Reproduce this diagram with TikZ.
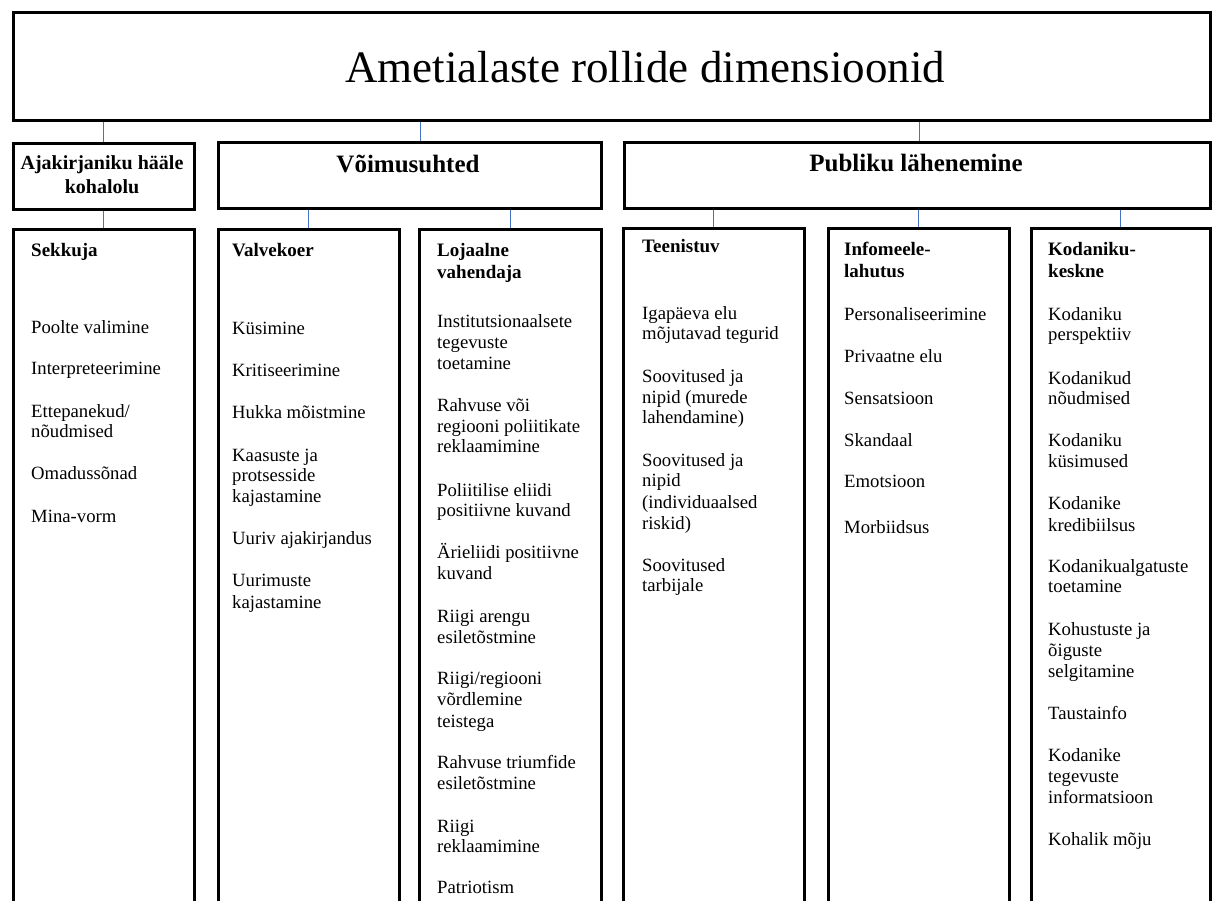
\documentclass[tikz,border=0pt]{standalone}
\usepackage{fontspec}
\setmainfont{Liberation Serif}
\definecolor{connblue}{RGB}{68,114,196}
\begin{document}
\begin{tikzpicture}[x=1pt,y=-1pt,
  box/.style={draw=black,line width=2.6pt,rectangle,inner sep=0pt,anchor=north west},
  conn/.style={draw=connblue,line width=1.3pt},
  head/.style={font=\fontsize{25}{28}\selectfont\bfseries,anchor=base,inner sep=0pt},
  ttl/.style={font=\fontsize{19}{22}\selectfont\bfseries,anchor=base west,inner sep=0pt},
  body/.style={font=\fontsize{18.7}{21}\selectfont,anchor=base west,inner sep=0pt}]
\useasboundingbox (0,0) rectangle (1212,901);
\fill[white] (0,0) rectangle (1212,901);
\clip (0,0) rectangle (1212,901);
% top box
\node[box,minimum width=1197pt,minimum height=108pt] (top) at (12,11) {};
\node[anchor=base,inner sep=0pt,font=\fontsize{45}{50}\selectfont] (toptxt) at (645,83) {Ametialaste rollide dimensioonid};
% row 2
\node[box,minimum width=181pt,minimum height=66pt] (ajak) at (12,142) {};
\node[box,minimum width=383pt,minimum height=66pt] (voim) at (217,141) {};
\node[box,minimum width=586pt,minimum height=66pt] (publ) at (623,141) {};
\node[anchor=base,inner sep=0pt,font=\fontsize{20}{24}\selectfont\bfseries] (ajaktxt1) at (102,170) {Ajakirjaniku hääle};
\node[anchor=base,inner sep=0pt,font=\fontsize{20}{24}\selectfont\bfseries] (ajaktxt2) at (102,194) {kohalolu};
\node[head] (voimtxt) at (408,173) {Võimusuhted};
\node[head] (publtxt) at (916,172) {Publiku lähenemine};
% row 3
\node[box,minimum width=181pt,minimum height=720pt] (sekk) at (12,228) {};
\node[box,minimum width=181pt,minimum height=720pt] (valv) at (217,228) {};
\node[box,minimum width=182pt,minimum height=720pt] (loja) at (418,228) {};
\node[box,minimum width=181pt,minimum height=720pt] (teen) at (622,227) {};
\node[box,minimum width=181pt,minimum height=720pt] (info) at (827,227) {};
\node[box,minimum width=179pt,minimum height=720pt] (koda) at (1030,227) {};
% connectors
\draw[conn] (top.south -| ajak.north) -- (ajak.north);
\draw[conn] ([xshift=11pt]voim.north |- top.south) -- ([xshift=11pt]voim.north);
\draw[conn] ([xshift=2pt]publ.north |- top.south) -- ([xshift=2pt]publ.north);
\draw[conn] (ajak.south) -- (sekk.north);
\draw[conn] (voim.south -| valv.north) -- (valv.north);
\draw[conn] (voim.south -| loja.north) -- (loja.north);
\draw[conn] (publ.south -| teen.north) -- (teen.north);
\draw[conn] (publ.south -| info.north) -- (info.north);
\draw[conn] (publ.south -| koda.north) -- (koda.north);
% column titles
\node[ttl] (sekkt) at (31,257) {Sekkuja};
\node[ttl] (valvt) at (232,257) {Valvekoer};
\node[ttl] (lojat1) at (437,257) {Lojaalne};
\node[ttl] (lojat2) at (437,278) {vahendaja};
\node[ttl] (teent) at (642,253) {Teenistuv};
\node[ttl] (infot1) at (844,256) {Infomeele-};
\node[ttl] (infot2) at (844,277) {lahutus};
\node[ttl] (kodat1) at (1048,256) {Kodaniku-};
\node[ttl] (kodat2) at (1048,277) {keskne};
% column items
\foreach \y/\t [count=\i] in {328/Poolte valimine,369/Interpreteerimine,412/{Ettepanekud/},432/nõudmised,474/Omadussõnad,517/Mina-vorm}
  \node[body] (s\i) at (31,\y+5) {\t};
\foreach \y/\t [count=\i] in {329/Küsimine,371/Kritiseerimine,413/Hukka mõistmine,456/Kaasuste ja,476/protsesside,497/kajastamine,539/Uuriv ajakirjandus,581/Uurimuste,603/kajastamine}
  \node[body] (v\i) at (232,\y+5) {\t};
\foreach \y/\t [count=\i] in {322/Institutsionaalsete,343/tegevuste,364/toetamine,406/Rahvuse või,427/regiooni poliitikate,447/reklaamimine,491/Poliitilise eliidi,511/positiivne kuvand,553/Ärieliidi positiivne,574/kuvand,617/Riigi arengu,638/esiletõstmine,679/{Riigi/regiooni},700/võrdlemine,722/teistega,763/Rahvuse triumfide,784/esiletõstmine,827/Riigi,847/reklaamimine,888/Patriotism}
  \node[body] (l\i) at (437,\y+5) {\t};
\foreach \y/\t [count=\i] in {314/Igapäeva elu,334/mõjutavad tegurid,377/Soovitused ja,398/nipid (murede,418/lahendamine),461/Soovitused ja,481/nipid,503/(individuaalsed,524/riskid),566/Soovitused,586/tarbijale}
  \node[body] (te\i) at (642,\y+5) {\t};
\foreach \y/\t [count=\i] in {315/Personaliseerimine,357/Privaatne elu,399/Sensatsioon,441/Skandaal,482/Emotsioon,528/Morbiidsus}
  \node[body] (in\i) at (844,\y+5) {\t};
\foreach \y/\t [count=\i] in {315/Kodaniku,335/perspektiiv,379/Kodanikud,399/nõudmised,441/Kodaniku,462/küsimused,504/Kodanike,526/kredibiilsus,567/Kodanikualgatuste,587/toetamine,630/Kohustuste ja,651/õiguste,672/selgitamine,714/Taustainfo,756/Kodanike,777/tegevuste,798/informatsioon,840/Kohalik mõju}
  \node[body] (k\i) at (1048,\y+5) {\t};
\end{tikzpicture}
\end{document}
